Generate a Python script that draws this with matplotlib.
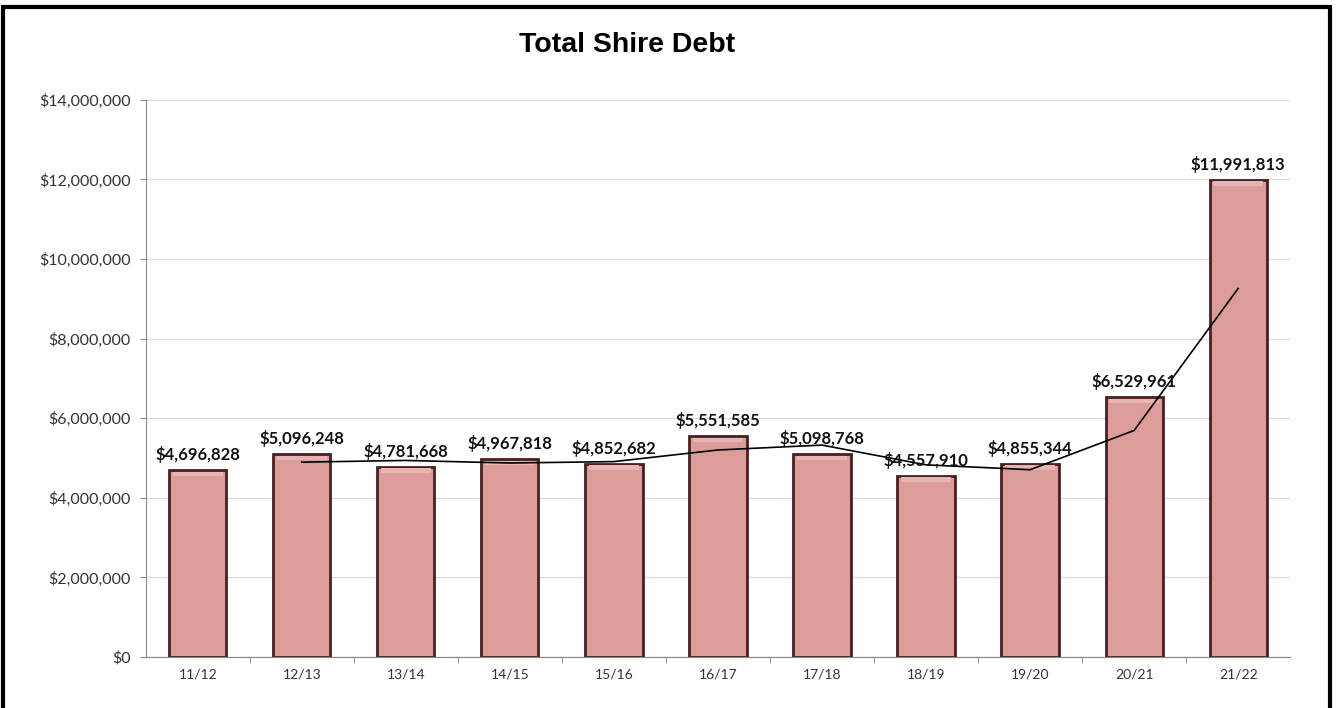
import matplotlib.pyplot as plt
from matplotlib.patches import Rectangle
from matplotlib.ticker import FuncFormatter, MultipleLocator

# --- DATA ---
years = ["11/12", "12/13", "13/14", "14/15", "15/16", "16/17",
         "17/18", "18/19", "19/20", "20/21", "21/22"]
debt = [4696828, 5096248, 4781668, 4967818, 4852682, 5551585,
        5098768, 4557910, 4855344, 6529961, 11991813]
# trend line (2-period moving average), starts at 12/13
trend_years = years[1:]
trend = [4896538, 4938958, 4874743, 4910250, 5202134,
         5325177, 4828339, 4706627, 5692653, 9260887]

fig = plt.figure(figsize=(13.37, 7.08), dpi=100)
ax = fig.add_axes([0.109, 0.072, 0.856, 0.787])

x = range(len(years))
ax.bar(x, debt, width=0.55, color="#DB9C9A", edgecolor="#4a1f1f",
       linewidth=2, zorder=3)
# light bevel highlight along the inner top of each bar
ax.bar(x, [110000] * len(years), bottom=[v - 150000 for v in debt], width=0.48,
       color="#E6B4B2", linewidth=0, zorder=3.5)

tx = [years.index(y) for y in trend_years]
ax.plot(tx, trend, color="black", linewidth=1.2, zorder=4)

for xi, v in zip(x, debt):
    ax.text(xi, v + 390000, f"${v:,.0f}", ha="center", va="center",
            fontsize=12, fontweight="bold", family="Lato", color="#111111",
            zorder=5)

ax.set_ylim(0, 14000000)
ax.set_xlim(-0.5, len(years) - 0.5)
ax.yaxis.set_major_locator(MultipleLocator(2000000))
ax.yaxis.set_major_formatter(FuncFormatter(lambda v, p: f"${v:,.0f}"))
ax.set_xticks(list(x))
ax.set_xticklabels(years)
ax.set_xticks([i + 0.5 for i in range(len(years) - 1)], minor=True)
ax.tick_params(axis="x", which="major", length=0, pad=8)
ax.tick_params(axis="x", which="minor", length=4, color="#888888")
ax.tick_params(axis="y", length=4, color="#888888", pad=7)
for lbl in ax.get_xticklabels():
    lbl.set_fontsize(10)
    lbl.set_family("Lato")
    lbl.set_color("#333333")
for lbl in ax.get_yticklabels():
    lbl.set_fontsize(11.5)
    lbl.set_family("Lato")
    lbl.set_color("#333333")

ax.grid(axis="y", color="#DDDDDD", linewidth=1, zorder=0)
for s in ["top", "right"]:
    ax.spines[s].set_visible(False)
ax.spines["left"].set_color("#888888")
ax.spines["bottom"].set_color("#888888")

fig.text(0.469, 0.936, "Total Shire Debt", ha="center", va="center",
         fontsize=20.5, fontweight="bold", family="Liberation Sans")

# outer border of the chart area
fig.patches.append(Rectangle((0.002, -0.01), 0.993, 1.0, transform=fig.transFigure,
                             fill=False, edgecolor="black", linewidth=3))

fig.savefig("out.png", dpi=100)
